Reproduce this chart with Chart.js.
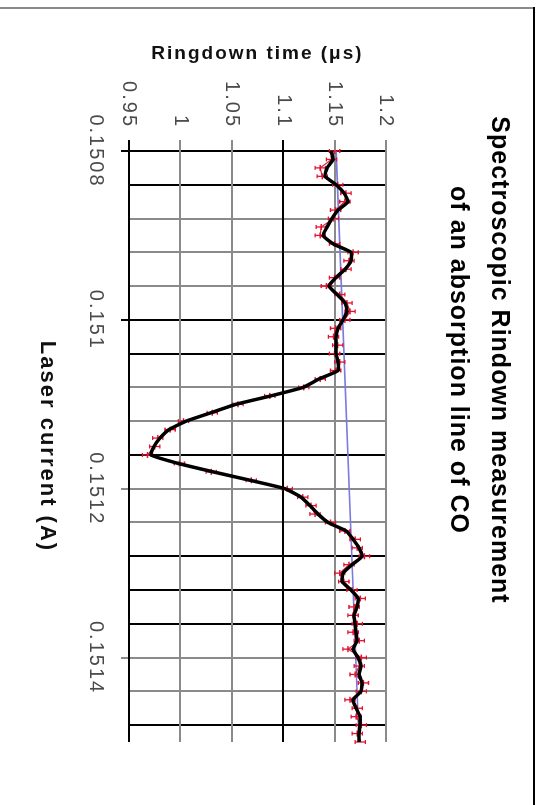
<!DOCTYPE html>
<html>
<head>
<meta charset="utf-8">
<title>Spectroscopic Rindown measurement of an absorption line of CO</title>
<script src="https://cdn.jsdelivr.net/npm/chart.js@4/dist/chart.umd.min.js"></script>
<style>
  html, body { margin: 0; padding: 0; background: #fff; }
  body { width: 539px; height: 805px; overflow: hidden; position: relative; }
  /* the chart is drawn upright, then turned a quarter clockwise */
  #frame { position: absolute; left: 539px; top: 0; width: 805px; height: 539px;
           transform-origin: 0 0; transform: rotate(90deg); }
  #frame canvas { position: absolute; left: 0; top: 0; }
  .edge-left { position: absolute; left: 7px; top: 5px; width: 2px; height: 534px; background: #8a8a8a; }
  .edge-top { position: absolute; left: 7px; top: 4px; width: 798px; height: 2px; background: #000; }
</style>
</head>
<body>
<div id="frame">
  <canvas id="chart-ringdown" width="805" height="539"></canvas>
  <div class="edge-left"></div>
  <div class="edge-top"></div>
</div>
<script>
// Spectroscopic ringdown scan across a CO absorption line
const titleLines = ['Spectroscopic Rindown measurement', 'of an absorption line of CO'];

// laser current (A), one sample every 0.00001 A
const laserCurrent = [
  0.1508, 0.15081, 0.15082, 0.15083, 0.15084, 0.15085, 0.15086, 0.15087, 0.15088, 0.15089,
  0.1509, 0.15091, 0.15092, 0.15093, 0.15094, 0.15095, 0.15096, 0.15097, 0.15098, 0.15099,
  0.151, 0.15101, 0.15102, 0.15103, 0.15104, 0.15105, 0.15106, 0.15107, 0.15108, 0.15109,
  0.1511, 0.15111, 0.15112, 0.15113, 0.15114, 0.15115, 0.15116, 0.15117, 0.15118, 0.15119,
  0.1512, 0.15121, 0.15122, 0.15123, 0.15124, 0.15125, 0.15126, 0.15127, 0.15128, 0.15129,
  0.1513, 0.15131, 0.15132, 0.15133, 0.15134, 0.15135, 0.15136, 0.15137, 0.15138, 0.15139,
  0.1514, 0.15141, 0.15142, 0.15143, 0.15144, 0.15145, 0.15146, 0.15147, 0.15148, 0.15149,
  0.1515
];

// measured ringdown time (us), red points
const measuredTime = [
  1.150, 1.147, 1.136, 1.138, 1.153, 1.161, 1.160, 1.151, 1.149, 1.137,
  1.136, 1.150, 1.168, 1.164, 1.161, 1.150, 1.142, 1.155, 1.162, 1.165,
  1.160, 1.151, 1.149, 1.153, 1.150, 1.155, 1.151, 1.136, 1.120, 1.087,
  1.056, 1.031, 1.003, 0.990, 0.978, 0.975, 0.968, 0.999, 1.030, 1.069,
  1.104, 1.119, 1.127, 1.131, 1.146, 1.160, 1.170, 1.172, 1.179, 1.164,
  1.155, 1.159, 1.167, 1.175, 1.169, 1.168, 1.172, 1.168, 1.174, 1.163,
  1.176, 1.174, 1.170, 1.178, 1.176, 1.165, 1.172, 1.171, 1.176, 1.172,
  1.175
];

// smoothed ringdown time (us), black line
const smoothTime = [
  1.1465, 1.1485, 1.1427, 1.1407, 1.1514, 1.1592, 1.1631, 1.1534, 1.1475, 1.1427,
  1.1388, 1.1485, 1.1660, 1.1660, 1.1602, 1.1514, 1.1446, 1.1524, 1.1602, 1.1621,
  1.1582, 1.1534, 1.1514, 1.1514, 1.1514, 1.1534, 1.1534, 1.1349, 1.1193, 1.0882,
  1.0541, 1.0298, 1.0055, 0.9889, 0.9802, 0.9743, 0.9714, 0.9977, 1.0317, 1.0677,
  1.1018, 1.1174, 1.1261, 1.1339, 1.1436, 1.1611, 1.1680, 1.1738, 1.1767, 1.1670,
  1.1582, 1.1573, 1.1660, 1.1728, 1.1718, 1.1689, 1.1699, 1.1709, 1.1718, 1.1680,
  1.1728, 1.1757, 1.1738, 1.1767, 1.1757, 1.1680, 1.1709, 1.1748, 1.1748, 1.1738,
  1.1738
];

// error bar half-length (us)
const timeError = 0.005;

// baseline (blue) end points
const baselineCurrent = [0.1508, 0.1515];
const baselineTime = [1.1515, 1.1738];

// axes
const currentGrid = [0.1508, 0.15084, 0.15088, 0.15092, 0.15096, 0.151, 0.15104, 0.15108, 0.15112,
  0.15116, 0.1512, 0.15124, 0.15128, 0.15132, 0.15136, 0.1514, 0.15144, 0.15148];
const currentTickLabels = ['0.1508', '', '', '', '', '0.151', '', '', '', '', '0.1512', '', '', '', '', '0.1514', '', ''];
const ringdownTicks = [0.95, 1, 1.05, 1.1, 1.15, 1.2];
const ringdownTickLabels = ['0.95', '1', '1.05', '1.1', '1.15', '1.2'];

// which grid lines come out dark in the picture
const darkCurrentLines = [0, 1, 5, 6, 9, 12, 13, 14, 17];
const darkRingdownLines = [0, 3];

const FONT = '"Liberation Sans", Arial, sans-serif';

// the old picture is stretched along its text, so space the letters out a bit
const spacing = {
    id: 'spacing',
    beforeDraw(chart) { chart.ctx.letterSpacing = '2px'; }
};

const sideTitle = {
    id: 'sideTitle',
    afterDraw(chart) {
        const ctx = chart.ctx;
        ctx.save();
        ctx.letterSpacing = '1px';
        ctx.font = 'bold 25px ' + FONT;
        ctx.fillStyle = '#000';
        ctx.textAlign = 'center';
        ctx.textBaseline = 'middle';
        titleLines.forEach((t, i) => ctx.fillText(t, 360, 40 + i * 41));
        ctx.restore();
    }
};

const errorBars = {
    id: 'errorBars',
    afterDatasetDraw(chart, args) {
        if (args.index !== 1) return;
        const xs = chart.scales.x, ys = chart.scales.y, ctx = chart.ctx;
        ctx.save();
        ctx.strokeStyle = '#e3122f';
        ctx.lineWidth = 1.3;
        laserCurrent.forEach((c, i) => {
            const px = xs.getPixelForValue(c);
            const top = ys.getPixelForValue(measuredTime[i] + timeError);
            const bot = ys.getPixelForValue(measuredTime[i] - timeError);
            ctx.beginPath();
            ctx.moveTo(px, top); ctx.lineTo(px, bot);
            ctx.moveTo(px - 2, top); ctx.lineTo(px + 2, top);
            ctx.moveTo(px - 2, bot); ctx.lineTo(px + 2, bot);
            ctx.stroke();
        });
        ctx.restore();
    }
};

const toPoints = (xs, ys) => xs.map((x, i) => ({ x: x, y: ys[i] }));

new Chart(document.getElementById('chart-ringdown'), {
    type: 'scatter',
    data: {
        datasets: [{
            label: 'Fit',
            data: toPoints(laserCurrent, smoothTime),
            showLine: true,
            borderColor: '#000',
            borderWidth: 3.5,
            tension: 0.15,
            pointRadius: 0,
            order: 0
        }, {
            label: 'Measured',
            data: toPoints(laserCurrent, measuredTime),
            showLine: true,
            borderColor: '#d0203a',
            borderWidth: 1.2,
            pointStyle: 'line',
            pointRadius: 3,
            pointBorderColor: '#e3122f',
            pointBorderWidth: 1.5,
            order: 1
        }, {
            label: 'Baseline',
            data: toPoints(baselineCurrent, baselineTime),
            showLine: true,
            borderColor: '#7a7ae0',
            borderWidth: 1.6,
            pointRadius: 0,
            order: 2
        }]
    },
    plugins: [spacing, sideTitle, errorBars],
    options: {
        responsive: false,
        animation: false,
        layout: { padding: { left: 0, right: 63, top: 153, bottom: 0 } },
        plugins: {
            legend: { display: false },
            tooltip: { enabled: false },
            title: { display: false }
        },
        scales: {
            x: {
                type: 'linear',
                min: 0.1508,
                max: 0.1515,
                afterBuildTicks: (scale) => { scale.ticks = currentGrid.map(v => ({ value: v })); },
                afterFit: (scale) => { scale.height = 129; },
                ticks: {
                    autoSkip: false,
                    maxRotation: 0,
                    padding: 13,
                    color: '#4a4a4a',
                    font: { family: FONT, size: 20 },
                    callback: (value, index) => currentTickLabels[index]
                },
                grid: {
                    lineWidth: 2,
                    tickLength: 8,
                    color: (c) => darkCurrentLines.includes(c.index) ? '#000' : '#8a8a8a',
                    tickColor: (c) => currentTickLabels[c.index] ? (darkCurrentLines.includes(c.index) ? '#000' : '#8a8a8a') : 'rgba(0,0,0,0)'
                },
                border: { display: false },
                title: {
                    display: true,
                    text: 'Laser current (A)',
                    color: '#111',
                    font: { family: FONT, size: 22, weight: 'bold' },
                    padding: { top: 0, bottom: 34 }
                }
            },
            y: {
                type: 'linear',
                min: 0.95,
                max: 1.2,
                afterBuildTicks: (scale) => { scale.ticks = ringdownTicks.map(v => ({ value: v })); },
                afterFit: (scale) => { scale.width = 151; },
                ticks: {
                    padding: 12,
                    color: '#4a4a4a',
                    font: { family: FONT, size: 20 },
                    callback: (value, index) => ringdownTickLabels[index]
                },
                grid: {
                    lineWidth: 2,
                    tickLength: 11,
                    color: (c) => darkRingdownLines.includes(c.index) ? '#000' : '#8a8a8a',
                    tickColor: (c) => darkRingdownLines.includes(c.index) ? '#000' : '#8a8a8a'
                },
                border: { display: false },
                title: {
                    display: true,
                    text: 'Ringdown time (\u03bcs)',
                    color: '#111',
                    font: { family: FONT, size: 19, weight: 'bold' },
                    padding: { top: 42, bottom: 0 }
                }
            }
        }
    }
});
</script>
</body>
</html>
